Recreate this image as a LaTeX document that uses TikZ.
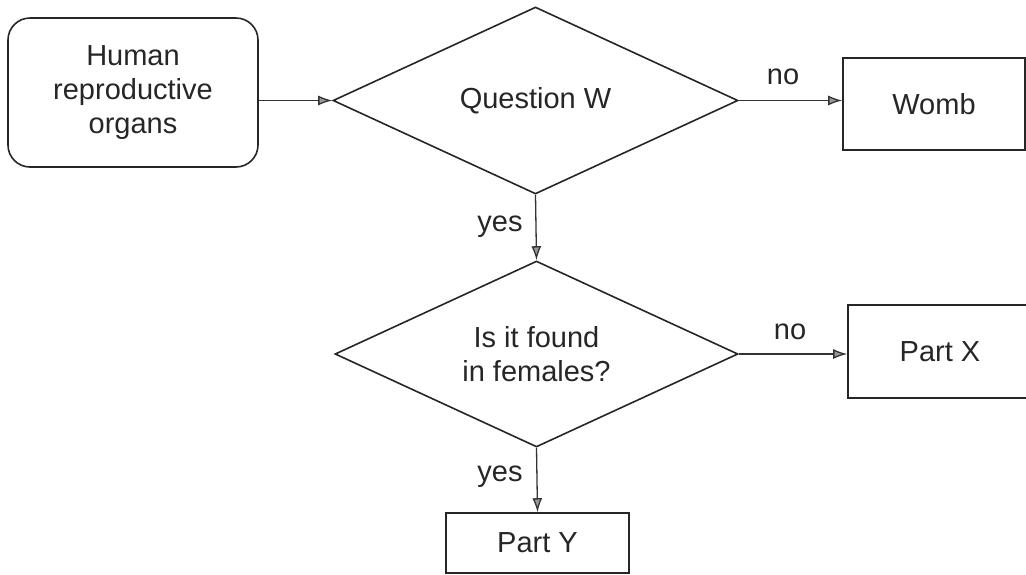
\documentclass[tikz,border=0pt]{standalone}
\usepackage{fontspec}
\setmainfont{Liberation Sans}
\usetikzlibrary{shapes.geometric,arrows.meta}
\begin{document}
\begin{tikzpicture}[x=1pt,y=-1pt,
  every node/.style={font=\fontsize{29}{34}\selectfont, text=black!85},
  line/.style={draw=black!85, line width=1.6pt},
  startbox/.style={line, rounded corners=22pt, minimum width=250pt, minimum height=149pt, align=center, inner sep=0pt},
  decision/.style={line, diamond, shape aspect=2.17, minimum width=405pt, minimum height=187pt, align=center, inner sep=0pt},
  result/.style={line, rectangle, inner sep=0pt},
  flow/.style={draw=black!80, line width=1.3pt, -{Latex[length=14pt,width=10pt,fill=black!40]}},
  lbl/.style={inner sep=0pt}
]
\useasboundingbox (0,0) rectangle (1026,574);
\node[startbox] (start) at (133,92.5) {Human\\reproductive\\organs};
\node[decision] (q1) at (535.5,100.5) {Question W};
\node[result, minimum width=182pt, minimum height=92pt] (womb) at (934,104) {Womb};
\node[decision, minimum width=403pt, minimum height=186pt] (q2) at (536.5,354) {Is it found\\in females?};
\node[result, minimum width=184pt, minimum height=93pt] (partx) at (940,351.5) {Part X};
\node[result, minimum width=183pt, minimum height=60pt] (party) at (537.5,543) {Part Y};
\draw[flow] (start.east |- q1.west) -- (q1.west);
\draw[flow] (q1.east) -- (q1.east -| womb.west);
\draw[flow] (q1.south) -- (q2.north);
\draw[flow] (q2.east) -- (q2.east -| partx.west);
\draw[flow] (q2.south) -- (party.north);
\node[lbl] (no1) at (783,77) {no};
\node[lbl] (no2) at (790,332) {no};
\node[lbl] (yes1) at (500,227) {yes};
\node[lbl] (yes2) at (500,477) {yes};
\end{tikzpicture}
\end{document}
